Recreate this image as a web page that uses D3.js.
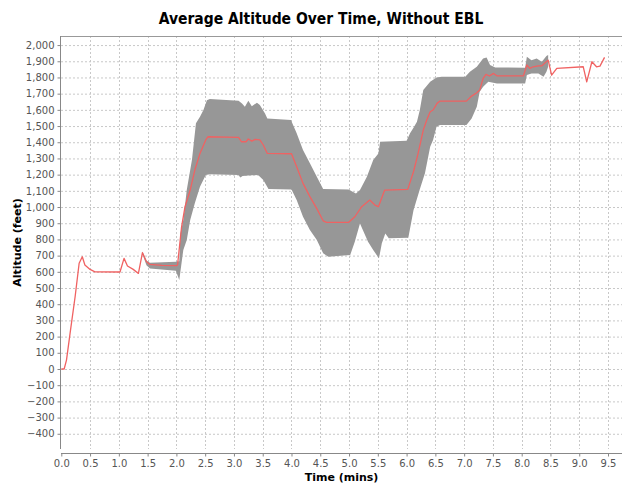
<!DOCTYPE html>
<html>
<head>
<meta charset="utf-8">
<script src="https://cdn.jsdelivr.net/npm/d3@7"></script>
<style>
  body { margin: 0; background: #fff; }
  svg { display: block; }
  .tick text { font-family: "DejaVu Sans", sans-serif; font-size: 10px; fill: #555; }
  .axis path, .axis line { stroke: #888; }
  .grid line { stroke: #c8c8c8; stroke-dasharray: 2,2; }
</style>
</head>
<body>
<div id="chart"></div>
<script>
// mean altitude (red line)
var meanTime = [0, 0.05, 0.09, 0.16, 0.24, 0.31, 0.365, 0.41, 0.5, 0.585, 1.02, 1.09, 1.15, 1.25, 1.34, 1.41, 1.48, 1.54, 1.75, 2.0,
    2.02, 2.09, 2.15, 2.24, 2.32, 2.41, 2.51, 2.55, 3.08, 3.13, 3.21, 3.25, 3.31, 3.37, 3.45, 3.51, 3.58, 4.0, 4.09, 4.2,
    4.32, 4.44, 4.55, 4.61, 4.99, 5.1, 5.22, 5.36, 5.45, 5.51, 5.62, 6.02, 6.12, 6.2, 6.29, 6.35, 6.41, 6.46, 6.53, 6.58,
    7.04, 7.13, 7.22, 7.27, 7.33, 7.38, 7.44, 7.51, 7.57, 8.03, 8.09, 8.14, 8.2, 8.29, 8.35, 8.46, 8.52, 8.61, 9.07, 9.13,
    9.22, 9.3, 9.36, 9.44];
var meanAlt = [0, 0, 55, 240, 446, 653, 693, 642, 615, 600, 599, 683, 636, 615, 590, 718, 662, 646, 640, 638,
    642, 878, 1002, 1105, 1228, 1331, 1414, 1434, 1430, 1403, 1403, 1420, 1407, 1418, 1414, 1383, 1331, 1329, 1249, 1146,
    1064, 990, 915, 905, 905, 940, 1002, 1043, 1012, 1002, 1105, 1109, 1218, 1331, 1475, 1537, 1588, 1599, 1640, 1654,
    1654, 1685, 1706, 1722, 1794, 1819, 1809, 1825, 1810, 1810, 1877, 1856, 1866, 1872, 1872, 1907, 1815, 1856, 1866, 1773,
    1897, 1866, 1870, 1924];

// upper edge of the spread band
var upperTime = [1.41, 1.48, 1.54, 1.99, 2.05, 2.07, 2.12, 2.18, 2.27, 2.34, 2.41, 2.47, 2.53, 2.58, 3.08, 3.14, 3.19, 3.25, 3.31, 3.4,
    3.45, 3.54, 3.58, 3.99, 4.09, 4.2, 4.32, 4.44, 4.55, 4.99, 5.12, 5.19, 5.31, 5.42, 5.51, 5.54, 6.0, 6.06, 6.12, 6.18,
    6.23, 6.29, 6.41, 6.52, 6.61, 7.02, 7.1, 7.22, 7.33, 7.39, 7.45, 7.54, 8.06, 8.09, 8.17, 8.26, 8.35, 8.43, 8.46];
var upperAlt = [725, 670, 656, 662, 665, 837, 920, 1105, 1290, 1517, 1557, 1599, 1660, 1667, 1656, 1640, 1619, 1656, 1623, 1644,
    1630, 1578, 1547, 1537, 1455, 1352, 1270, 1187, 1112, 1109, 1084, 1105, 1187, 1290, 1331, 1403, 1409, 1455, 1490, 1527,
    1599, 1722, 1773, 1800, 1805, 1805, 1835, 1866, 1917, 1924, 1877, 1862, 1860, 1928, 1907, 1917, 1897, 1932, 1938];

// lower edge of the spread band
var lowerTime = [1.41, 1.48, 1.54, 1.99, 2.05, 2.12, 2.18, 2.24, 2.32, 2.41, 2.51, 2.58, 3.08, 3.11, 3.15, 3.25, 3.42, 3.51, 3.6, 4.0,
    4.09, 4.2, 4.32, 4.44, 4.55, 4.64, 5.02, 5.1, 5.19, 5.33, 5.42, 5.52, 5.57, 5.63, 5.69, 6.03, 6.12, 6.23, 6.32, 6.41,
    6.46, 6.52, 6.58, 7.04, 7.13, 7.22, 7.27, 7.33, 7.42, 7.57, 8.06, 8.09, 8.17, 8.29, 8.38, 8.43, 8.46];
var lowerAlt = [710, 640, 621, 607, 549, 735, 796, 920, 1023, 1125, 1198, 1202, 1198, 1183, 1192, 1195, 1198, 1167, 1112, 1109,
    1043, 940, 858, 796, 714, 693, 704, 786, 899, 786, 735, 683, 776, 837, 807, 810, 980, 1110, 1210, 1372,
    1414, 1496, 1506, 1506, 1547, 1619, 1712, 1743, 1773, 1763, 1763, 1815, 1825, 1825, 1805, 1835, 1866];

var xTicks = d3.range(0, 10, 0.5);
var yTicks = d3.range(-400, 2001, 100);

var width = 625, height = 485,
    plot = { left: 61, right: 622, top: 36, bottom: 449 };

var x = d3.scaleLinear().domain([0, 9.75]).range([61.3, 622.4]);
var y = d3.scaleLinear().domain([-494, 2056]).range([plot.bottom, plot.top]);

var svg = d3.select("#chart").append("svg")
    .attr("width", width)
    .attr("height", height);

svg.append("text")
    .attr("x", 321)
    .attr("y", 24)
    .attr("text-anchor", "middle")
    .style("font-family", "'DejaVu Sans Condensed', 'DejaVu Sans', sans-serif")
    .style("font-weight", "bold")
    .style("font-size", "15.5px")
    .text("Average Altitude Over Time, Without EBL");

// grid
svg.append("g").attr("class", "grid")
    .selectAll("line.h").data(yTicks).enter().append("line")
    .attr("x1", plot.left).attr("x2", plot.right)
    .attr("y1", function(d) { return y(d) + 0.5; })
    .attr("y2", function(d) { return y(d) + 0.5; });
svg.select("g.grid")
    .selectAll("line.v").data(xTicks.filter(function(d) { return d > 0; })).enter().append("line")
    .attr("y1", plot.top).attr("y2", plot.bottom)
    .attr("x1", function(d) { return Math.round(x(d)) + 0.5; })
    .attr("x2", function(d) { return Math.round(x(d)) + 0.5; });

// top outline
svg.append("line")
    .attr("x1", plot.left).attr("x2", plot.right)
    .attr("y1", plot.top + 0.5).attr("y2", plot.top + 0.5)
    .attr("stroke", "#999");

// band
var bandPts = upperTime.map(function(t, i) { return [t, upperAlt[i]]; })
    .concat(lowerTime.map(function(t, i) { return [t, lowerAlt[i]]; }).reverse());
svg.append("path")
    .datum(bandPts)
    .attr("fill", "#979797")
    .attr("d", d3.line()
        .x(function(d) { return x(d[0]); })
        .y(function(d) { return y(d[1]); })
        .curve(d3.curveLinearClosed));

// mean line
svg.append("path")
    .datum(meanTime.map(function(t, i) { return [t, meanAlt[i]]; }))
    .attr("fill", "none")
    .attr("stroke", "#f06262")
    .attr("stroke-width", 1.3)
    .attr("stroke-linejoin", "round")
    .attr("d", d3.line()
        .x(function(d) { return x(d[0]); })
        .y(function(d) { return y(d[1]); }));

// axes
var yAxis = svg.append("g").attr("class", "axis")
    .attr("transform", "translate(" + (plot.left - 0.5) + ",0)")
    .call(d3.axisLeft(y).tickValues(yTicks).tickFormat(d3.format(",")).tickSize(3).tickSizeOuter(0));
yAxis.select(".domain").attr("d", "M0," + plot.top + "V" + plot.bottom);
yAxis.selectAll(".tick text").attr("x", -6);

var xAxis = svg.append("g").attr("class", "axis")
    .attr("transform", "translate(0," + (plot.bottom + 4.5) + ")")
    .call(d3.axisBottom(x).tickValues(xTicks).tickFormat(d3.format(".1f")).tickSize(3).tickSizeOuter(0));
xAxis.select(".domain").attr("d", "M" + plot.left + ",0H" + plot.right);
xAxis.selectAll(".tick text").attr("y", 6);

svg.append("text")
    .attr("transform", "translate(21," + ((plot.top + plot.bottom) / 2) + ") rotate(-90)")
    .attr("text-anchor", "middle")
    .style("font-family", "'DejaVu Sans', sans-serif")
    .style("font-weight", "bold")
    .style("font-size", "11px")
    .text("Altitude (feet)");

svg.append("text")
    .attr("x", (plot.left + plot.right) / 2)
    .attr("y", 481)
    .attr("text-anchor", "middle")
    .style("font-family", "'DejaVu Sans', sans-serif")
    .style("font-weight", "bold")
    .style("font-size", "11px")
    .text("Time (mins)");
</script>
</body>
</html>
